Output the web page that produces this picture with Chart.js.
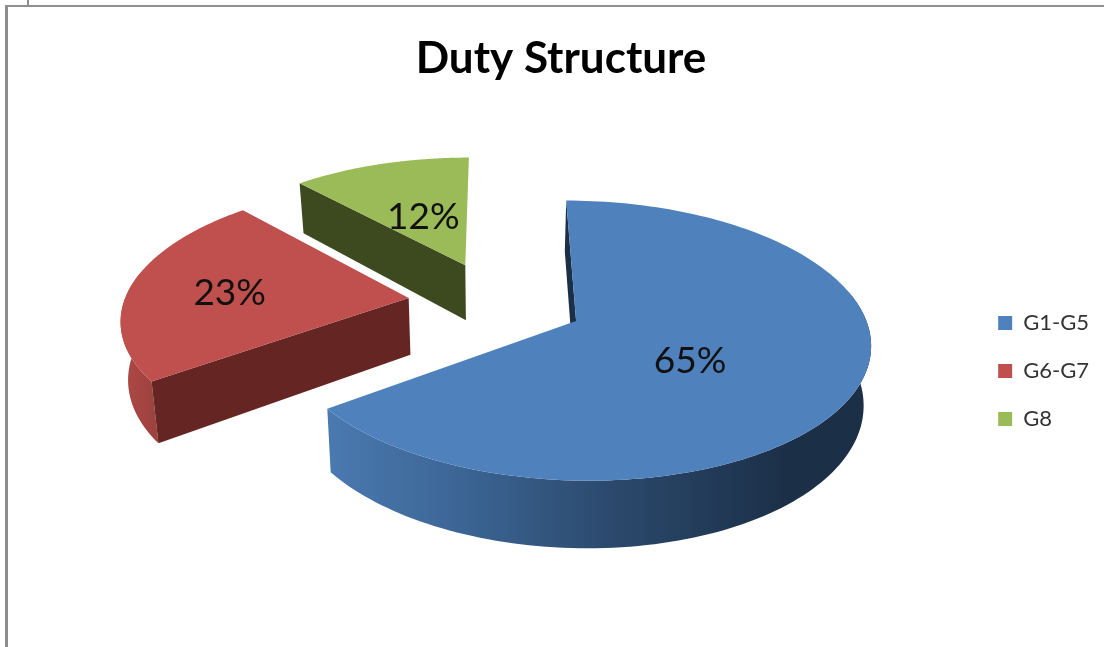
<!DOCTYPE html>
<html>
<head>
<meta charset="utf-8">
<script src="https://cdn.jsdelivr.net/npm/chart.js@4"></script>
<style>
html,body{margin:0;padding:0;background:#fff;overflow:hidden}
#wrap{position:relative;width:1104px;height:647px;overflow:hidden}
#chart{position:absolute;left:0;top:0;filter:blur(0.5px)}
.f{position:absolute;background:#8e8e8e}
</style>
</head>
<body>
<div id="wrap">
<div class="f" style="left:5px;top:5px;width:1099px;height:2px"></div>
<div class="f" style="left:5px;top:5px;width:3px;height:642px"></div>
<div class="f" style="left:27px;top:0;width:2px;height:5px"></div>
<canvas id="chart" width="1104" height="647"></canvas>
</div>
<script>
const chartTitle = "Duty Structure";
const categories = ["G1-G5", "G6-G7", "G8"];
const shares = [65, 23.2, 11.8];
const faceColors = ["#4F81BD", "#C0504D", "#9BBB59"];
const wallColors = ["#1b2f47", "#652523", "#3d4a20"];

// Projection of the tilted pie plane onto the page
const view = {cx: 496, cy: 302, rx: 289, ry: 134, k: 0.14, radius: 0.985, explode: 0.305, depth: 57, floorScale: 0.98};
const labelOffsets = [[114, 40], [-179, -5], [-42, -48]];

function project(U, V, low) {
  const s = 1 / (1 + view.k * V);
  let x = view.cx + view.rx * U * s;
  let y = view.cy - view.ry * V * s;
  if (low) {
    x = view.cx + (x - view.cx) * view.floorScale;
    y += view.depth * s;
  }
  return [x, y];
}

const pie3d = {
  id: 'pie3d',
  beforeDatasetDraw(chart, args) {
    const ctx = chart.ctx;
    const arcs = chart.getDatasetMeta(args.index).data;
    const apexes = arcs.map(a => {
      const mid = (a.startAngle + a.endAngle) / 2;
      return [view.explode * Math.cos(mid), -view.explode * Math.sin(mid)];
    });
    const poly = pts => {
      ctx.beginPath();
      pts.forEach((p, i) => i ? ctx.lineTo(p[0], p[1]) : ctx.moveTo(p[0], p[1]));
      ctx.closePath();
      ctx.fill();
    };
    for (let i = arcs.length - 1; i >= 0; i--) {
      const a = arcs[i], [ux, vy] = apexes[i];
      const rim = (t, low) => project(ux + view.radius * Math.cos(t), vy - view.radius * Math.sin(t), low);
      const top = project(ux, vy, false), bot = project(ux, vy, true);
      const n = 160, upper = [], lower = [], frontUpper = [], frontLower = [];
      for (let j = 0; j <= n; j++) {
        const t = a.startAngle + (a.endAngle - a.startAngle) * j / n;
        upper.push(rim(t, false));
        lower.push(rim(t, true));
        // only the near part of the rim can be seen
        if (Math.sin(t) > -0.2) {
          frontUpper.push(rim(t, false));
          frontLower.push(rim(t, true));
        }
      }
      // outer rim
      if (frontUpper.length) {
        const g = ctx.createLinearGradient(i === 0 ? 330 : 122, 0, i === 0 ? 790 : 165, 0);
        if (i === 0) {
          g.addColorStop(0, '#4a79b0'); g.addColorStop(0.3, '#3b6493');
          g.addColorStop(0.6, '#2c4a6e'); g.addColorStop(1, '#1b2f47');
        } else {
          g.addColorStop(0, '#b04845'); g.addColorStop(1, '#96403d');
        }
        ctx.fillStyle = g;
        poly(frontUpper.concat(frontLower.reverse()));
      }
      // visible radial wall
      ctx.fillStyle = wallColors[i];
      poly([top, bot, lower[0], upper[0]]);
      // top face
      ctx.fillStyle = faceColors[i];
      poly([top].concat(upper));
    }
    // percentage labels
    ctx.fillStyle = '#111';
    ctx.font = '37px Lato';
    ctx.textAlign = 'center';
    ctx.textBaseline = 'middle';
    const total = shares.reduce((p, c) => p + c, 0);
    arcs.forEach((a, i) => {
      const p = project(apexes[i][0], apexes[i][1], false);
      ctx.fillText(Math.round(shares[i] / total * 100) + '%', p[0] + labelOffsets[i][0], p[1] + labelOffsets[i][1]);
    });
    return false;
  }
};

new Chart(document.getElementById('chart'), {
  type: 'pie',
  data: {labels: categories, datasets: [{data: shares, backgroundColor: faceColors, borderWidth: 0}]},
  options: {
    responsive: false,
    animation: false,
    layout: {padding: {left: 23, right: 5, top: 32, bottom: 0}},
    plugins: {
      tooltip: {enabled: false},
      title: {display: true, text: chartTitle, color: '#000', font: {family: 'Lato', size: 44, weight: 'bold'}, padding: {top: 0, bottom: 10}},
      legend: {
        position: 'right',
        fullSize: false,
        labels: {color: '#333', font: {family: 'Lato', size: 22}, boxWidth: 14, boxHeight: 14, padding: 26}
      }
    }
  },
  plugins: [pie3d]
});
</script>
</body>
</html>
